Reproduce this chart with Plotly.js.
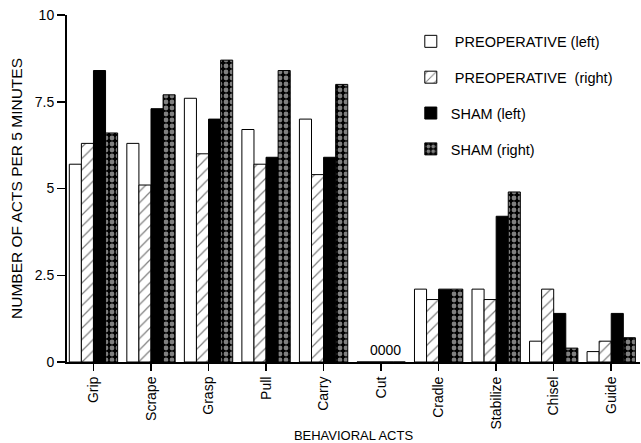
<!DOCTYPE html>
<html>
<head>
<meta charset="utf-8">
<script src="https://cdn.plot.ly/plotly-3.0.1.min.js"></script>
<style>html,body{margin:0;padding:0;background:#fff;}#chart{width:641px;height:443px;}</style>
</head>
<body>
<div id="chart"></div>
<script>
const categories = ["Grip","Scrape","Grasp","Pull","Carry","Cut","Cradle","Stabilize","Chisel","Guide"];
const preopLeft  = [5.7, 6.3, 7.6, 6.7, 7.0, 0, 2.1, 2.1, 0.6, 0.3];
const preopRight = [6.3, 5.1, 6.0, 5.7, 5.4, 0, 1.8, 1.8, 2.1, 0.6];
const shamLeft   = [8.4, 7.3, 7.0, 5.9, 5.9, 0, 2.1, 4.2, 1.4, 1.4];
const shamRight  = [6.6, 7.7, 8.7, 8.4, 8.0, 0, 2.1, 4.9, 0.4, 0.7];
const seriesNames = ["\u00a0PREOPERATIVE (left)", "\u00a0PREOPERATIVE\u00a0 (right)", "SHAM (left)", "SHAM (right)"];
const yTickVals = [0, 2.5, 5, 7.5, 10];
const yTickText = ["0", "2.5", "5", "7.5", "10"];
const zeroLabel = "0000";

const font = "Liberation Sans, Arial, Helvetica, sans-serif";
const line = {color: "black", width: 1};

const traces = [
  {type: "bar", name: seriesNames[0], x: categories, y: preopLeft, legendgroup: "a",
   marker: {color: "white", line: line}},
  {type: "bar", name: seriesNames[1], x: categories, y: preopRight, legendgroup: "b",
   marker: {color: "white", line: line,
            pattern: {shape: "/", fillmode: "overlay", fgcolor: "black", size: 8, solidity: 0.15}}},
  {type: "bar", name: seriesNames[2], x: categories, y: shamLeft, legendgroup: "c",
   marker: {color: "black", line: line}},
  {type: "bar", name: seriesNames[3], x: categories, y: shamRight, legendgroup: "d",
   marker: {color: "black", line: line,
            pattern: {shape: ".", fillmode: "overlay", fgcolor: "white", size: 6, solidity: 0.5}}}
];

const layout = {
  width: 641, height: 443,
  margin: {l: 67, r: 1, t: 15, b: 81, pad: 0},
  paper_bgcolor: "white", plot_bgcolor: "white",
  font: {family: font, size: 14, color: "black"},
  barmode: "group", bargap: 0.16, bargroupgap: 0,
  showlegend: true,
  legend: {x: 0.6, xanchor: "left", y: 0.97, yanchor: "top", bgcolor: "rgba(0,0,0,0)",
           font: {family: font, size: 14.5, color: "black"}, tracegroupgap: 14, traceorder: "grouped"},
  xaxis: {
    type: "category", range: [-0.46, 9.5],
    showline: true, linecolor: "black", linewidth: 2,
    ticks: "outside", ticklen: 7, tickwidth: 1.5, tickcolor: "black",
    tickangle: -90, tickfont: {family: font, size: 14, color: "black"},
    showgrid: false, zeroline: false,
    title: {text: "BEHAVIORAL ACTS", font: {family: font, size: 13, color: "black"}, standoff: 3}
  },
  yaxis: {
    range: [0, 10], tickvals: yTickVals, ticktext: yTickText,
    showline: true, linecolor: "black", linewidth: 2,
    ticks: "outside", ticklen: 8, tickwidth: 1.5, tickcolor: "black",
    tickfont: {family: font, size: 14, color: "black"},
    showgrid: false, zeroline: false,
    title: {text: "NUMBER OF ACTS PER 5 MINUTES", font: {family: font, size: 15.5, color: "black"}, standoff: 8}
  },
  annotations: [
    {x: categories[5], y: 0, xref: "x", yref: "y", text: zeroLabel, showarrow: false,
     yanchor: "bottom", xshift: 4, yshift: 2, font: {family: font, size: 14, color: "black"}}
  ]
};

Plotly.newPlot("chart", traces, layout, {displayModeBar: false, staticPlot: true});
</script>
</body>
</html>
